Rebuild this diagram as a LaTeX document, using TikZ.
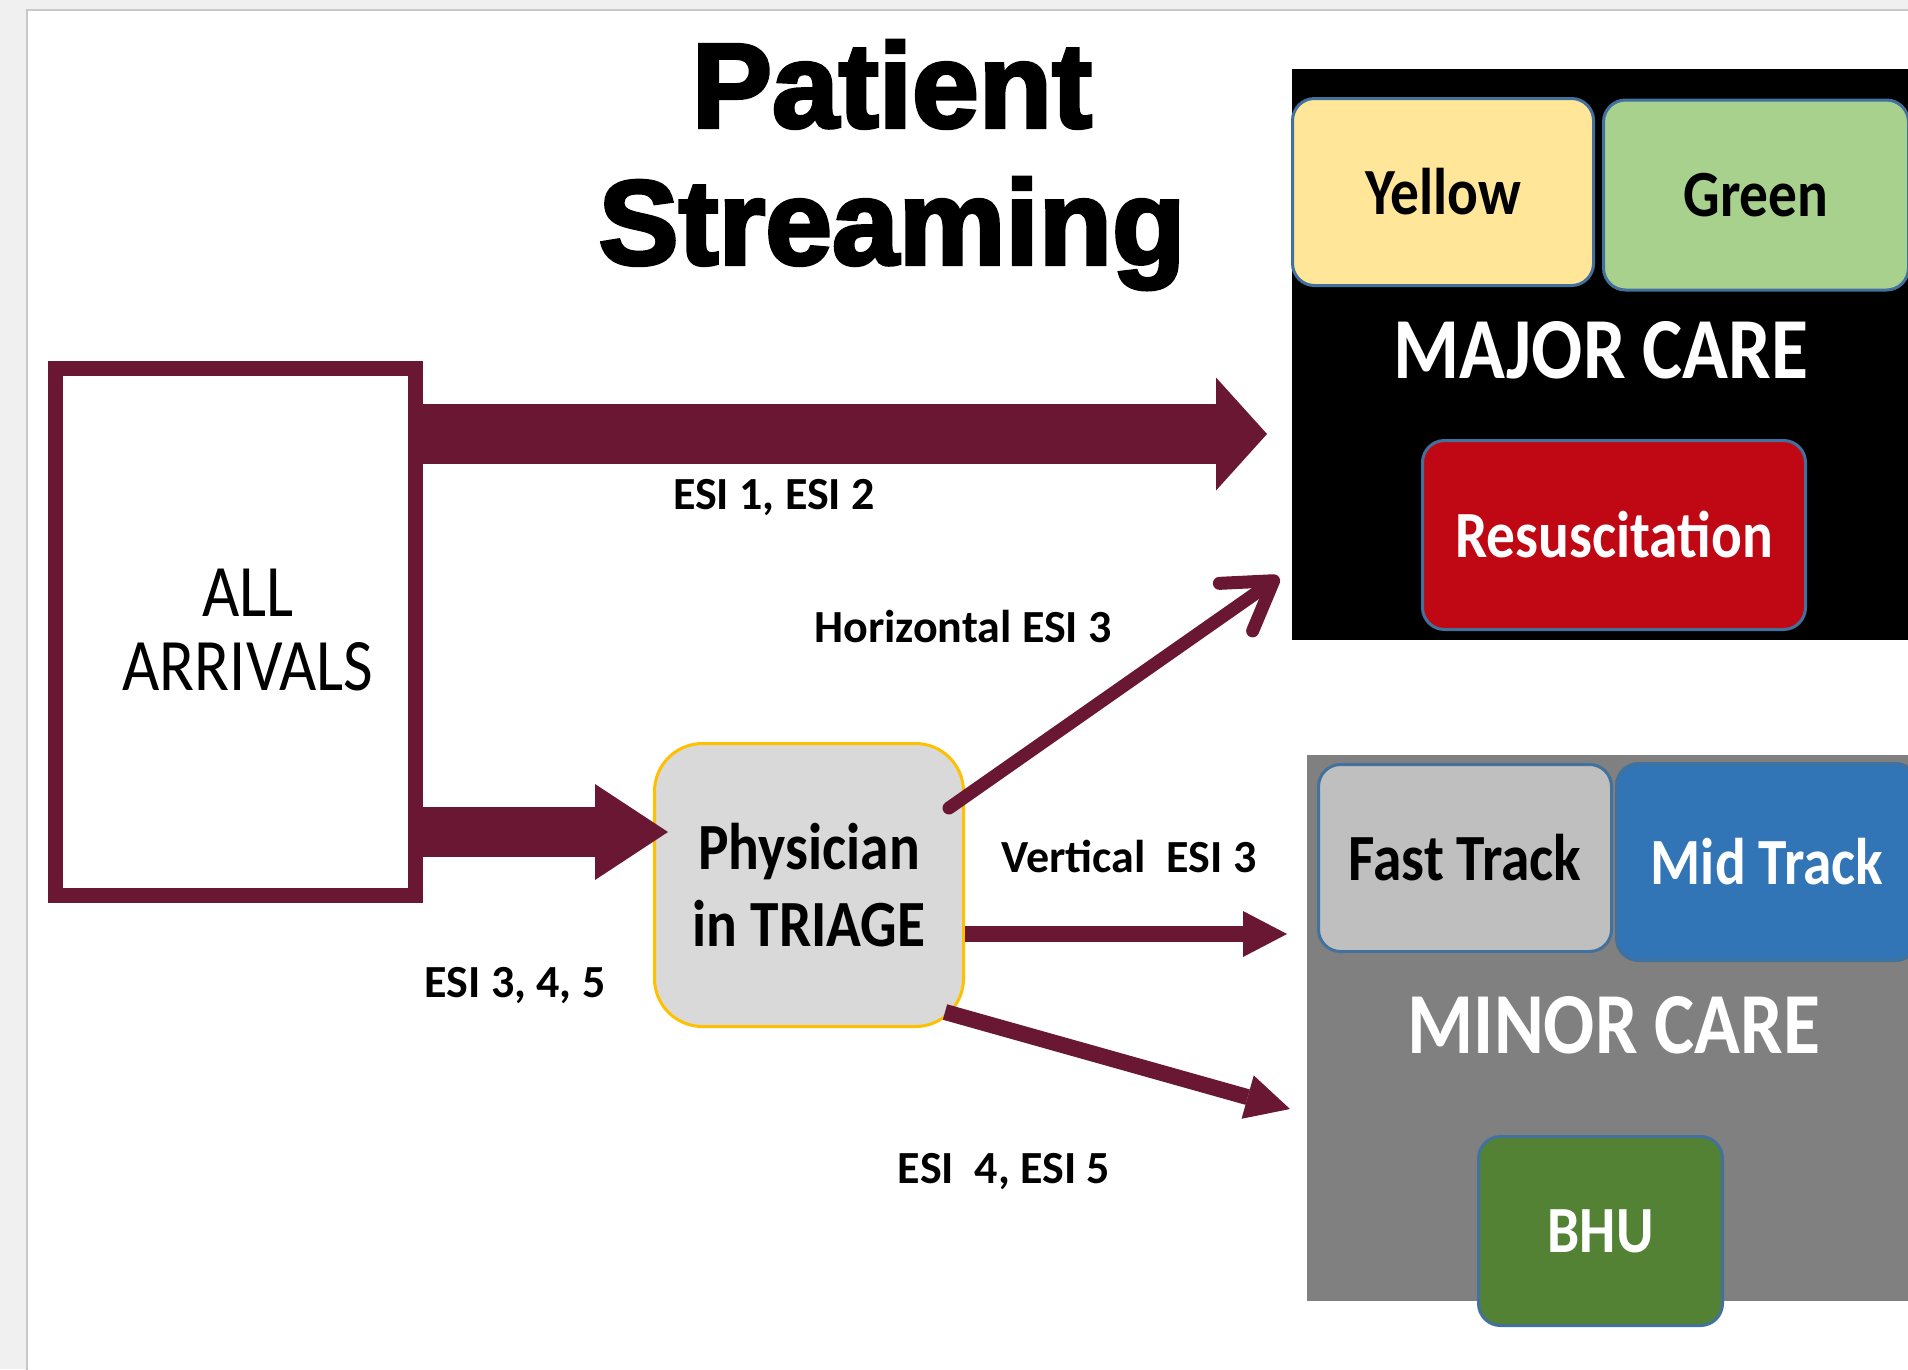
\documentclass[tikz,border=0pt]{standalone}
\usepackage{fontspec}
\setmainfont{Carlito}
\newfontfamily\boxfont[FakeStretch=0.87]{Carlito}
\newfontfamily\titlefont[BoldFeatures={FakeBold=3}]{Liberation Sans}
\usepackage{xcolor}
\usepackage{tikz}
\usetikzlibrary{positioning, arrows.meta, calc}

\definecolor{maroon}{RGB}{106,23,51}
\definecolor{pagegray}{RGB}{240,240,240}
\definecolor{edgegray}{RGB}{200,200,200}
\definecolor{triagefill}{RGB}{217,217,217}
\definecolor{triageline}{RGB}{255,192,0}
\definecolor{boxline}{RGB}{65,113,156}
\definecolor{yellowbox}{RGB}{255,230,153}
\definecolor{greenbox}{RGB}{169,209,142}
\definecolor{resusred}{RGB}{192,8,20}
\definecolor{fastgray}{RGB}{191,191,191}
\definecolor{midblue}{RGB}{50,117,182}
\definecolor{bhugreen}{RGB}{84,130,53}
\definecolor{minorgray}{RGB}{128,128,128}

\begin{document}
\begin{tikzpicture}[
      x=1pt, y=-1pt,
      unit/.style={rounded corners=22pt, draw=boxline, line width=3pt, inner sep=0pt,
        font=\boxfont\bfseries\fontsize{66}{66}\selectfont},
      area/.style={inner sep=0pt, outer sep=0pt},
      areatitle/.style={text=white, font=\boxfont\bfseries\fontsize{87}{87}\selectfont},
      esilabel/.style={anchor=base, font=\bfseries\fontsize{46}{46}\selectfont},
      flow/.style={draw=maroon}
    ]
      \useasboundingbox (0,0) rectangle (1908,1369);
      \fill[pagegray] (0,0) rectangle (1908,1369);
      \filldraw[fill=white, draw=edgegray, line width=1.5pt] (27,10) rectangle (1912,1373);

      % Title
      \node[font=\titlefont\bfseries\fontsize{120}{137}\selectfont, align=center] (title) at (892,165) {Patient\\Streaming};

      % Major care
      \node[area, fill=black, minimum width=640pt, minimum height=571pt] (major) at (1612,354.5) {};
      \node[unit, fill=yellowbox, minimum width=301pt, minimum height=187pt] (yellow) at (1443,192) {Yellow};
      \node[unit, fill=greenbox, minimum width=305pt, minimum height=190pt] (green) at (1756,195) {Green};
      \node[areatitle] (majortitle) at (1601,350) {MAJOR CARE};
      \node[unit, fill=resusred, text=white, minimum width=383pt, minimum height=189pt] (resus) at (1614,535) {Resuscitation};

      % Minor care
      \node[area, fill=minorgray, minimum width=640pt, minimum height=546pt] (minor) at (1627,1028) {};
      \node[unit, fill=fastgray, minimum width=293pt, minimum height=187pt] (fast) at (1465,858) {Fast Track};
      \node[unit, fill=midblue, text=white, minimum width=301pt, minimum height=197pt] (mid) at (1767,862) {Mid Track};
      \node[areatitle] (minortitle) at (1614,1025) {MINOR CARE};
      \node[unit, fill=bhugreen, text=white, minimum width=244pt, minimum height=189pt] (bhu) at (1600.5,1231) {BHU};

      % Arrivals and triage
      \node[draw=maroon, line width=15pt, inner sep=0pt, minimum width=360pt, minimum height=527pt] (arrivals) at (235.5,632) {};
      \node[font=\boxfont\fontsize{74}{74}\selectfont, align=center] (arrivalstext) at (248,630) {ALL\\ARRIVALS};
      \node[rounded corners=48pt, fill=triagefill, draw=triageline, line width=3pt, inner sep=0pt,
        minimum width=309pt, minimum height=283pt, align=center,
        font=\boxfont\bfseries\fontsize{66}{77}\selectfont] (triage) at (809,885) {Physician\\in TRIAGE};

      % Arrow tips
      \coordinate (tipA) at (1267,434);
      \coordinate (tipB) at (668,832);
      \coordinate (tipC) at (1279,577);
      \coordinate (tipD) at (1287,934);
      \coordinate (tipE) at (1290,1109);

      \draw[flow, line width=60pt, -{Triangle[length=51pt, width=113pt, line width=0pt]}] (arrivals.east |- tipA) -- (tipA);
      \draw[flow, line width=50pt, -{Triangle[length=73pt, width=96pt, line width=0pt]}] (arrivals.east |- tipB) -- (tipB);
      \draw[flow, line width=13pt, line cap=round, -{Straight Barb[length=46pt, width=58pt, round]}] ([shift={(-16,66)}]triage.north east) -- (tipC);
      \draw[flow, line width=16pt, -{Triangle[length=44pt, width=46pt, line width=0pt]}] (triage.east |- tipD) -- (tipD);
      \draw[flow, line width=16pt, -{Triangle[length=44pt, width=45pt, line width=0pt]}] ([shift={(-20,-16)}]triage.south east) -- (tipE);

      % Labels
      \node[esilabel] (lblA) at (774,509) {ESI 1, ESI 2};
      \node[esilabel] (lblC) at (963,642) {Horizontal ESI 3};
      \node[esilabel] (lblD) at (1129,872) {Vertical~~ESI 3};
      \node[esilabel] (lblB) at (515,997) {ESI 3, 4, 5};
      \node[esilabel] (lblE) at (1004,1183) {ESI~~4, ESI 5};
    \end{tikzpicture}
\end{document}
